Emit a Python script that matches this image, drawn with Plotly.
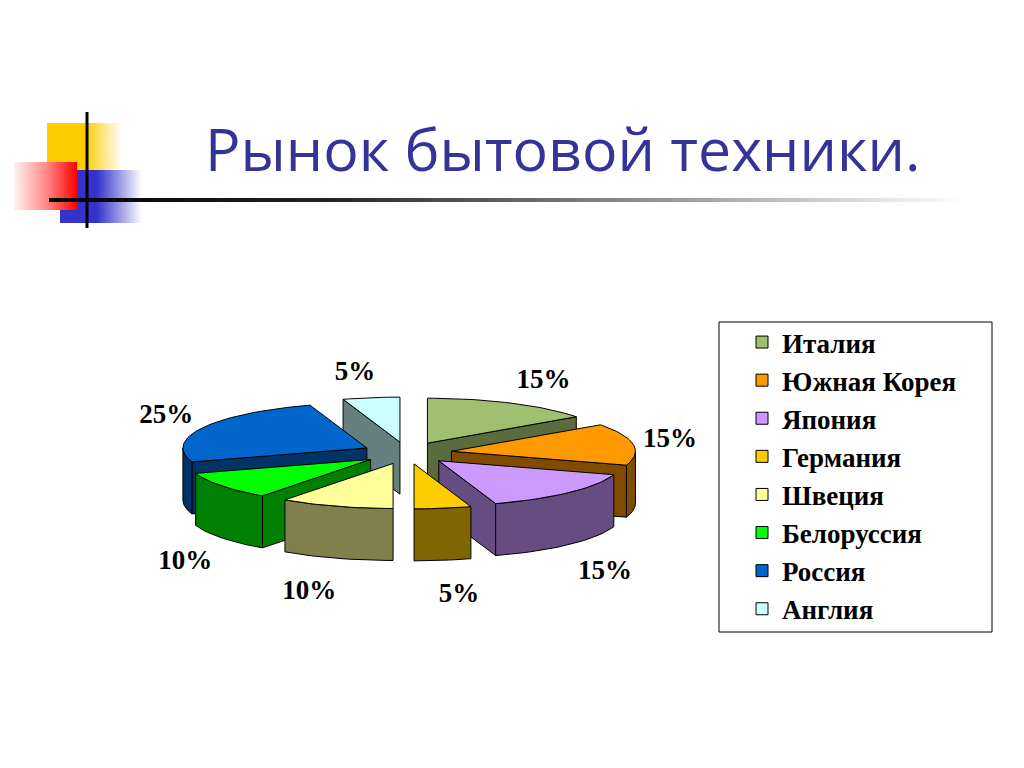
import math
import plotly.graph_objects as go

# data
countries = ["Италия", "Южная Корея", "Япония", "Германия",
             "Швеция", "Белоруссия", "Россия", "Англия"]
shares = [15, 15, 15, 5, 10, 10, 25, 5]
top_colors = ["#A0BF70", "#FF9900", "#CC99FF", "#FFCC00",
              "#FFFF99", "#00FF00", "#0066CC", "#CCFFFF"]
side_colors = ["#5A6B3E", "#804D00", "#664C80", "#806600",
               "#80804C", "#008000", "#003366", "#668080"]
title_text = "Рынок бытовой техники."

# 3d pie geometry, page pixels (y goes down)
CX, CY = 407, 453
RX, RY = 184, 45
DEPTH = 52
EXPLODE = 45

# the page body has an 8px margin, so the figure is 1016x760 and the axes
# start at 8 -> data units == page pixels
W, H, OFF = 1016, 760, 8


def pt(theta, ox, oy, down=0):
    t = math.radians(theta)
    return CX + ox + RX * math.sin(t), CY + oy - RY * math.cos(t) + down


def arc(a, b, ox, oy, down=0):
    n = max(2, int(abs(b - a) / 2) + 2)
    return [pt(a + (b - a) * i / (n - 1), ox, oy, down) for i in range(n)]


def face(points, fill, group):
    xs = [p[0] for p in points] + [points[0][0]]
    ys = [p[1] for p in points] + [points[0][1]]
    return go.Scatter(x=xs, y=ys, mode="lines", fill="toself", fillcolor=fill,
                      line=dict(color="black", width=1), legendgroup=group,
                      showlegend=False, hoverinfo="skip")


fig = go.Figure()

# slide decoration (gradient squares + rule)
def grad_rect(x0, x1, y0, y1, scale):
    return go.Scatter(x=[x0, x1, x1, x0, x0], y=[y0, y0, y1, y1, y0], mode="lines",
                      line=dict(width=0), fill="toself",
                      fillgradient=dict(type="horizontal", colorscale=scale),
                      showlegend=False, hoverinfo="skip")

fig.add_trace(grad_rect(47, 122, 123, 190, [[0, "#FFCC00"], [0.5, "#FFCC00"], [1, "#FFFFFF"]]))
fig.add_trace(grad_rect(60, 142, 170, 223, [[0, "#3333CC"], [0.45, "#3333CC"], [1, "#FFFFFF"]]))
fig.add_trace(grad_rect(14, 77, 162, 210, [[0, "#FFF2F2"], [0.5, "#FF8C8C"], [1, "#FF0000"]]))
fig.add_trace(grad_rect(49, 965, 198, 202, [[0, "#000000"], [0.3, "#222222"], [1, "#FFFFFF"]]))

# legend entries
for name, c in zip(countries, top_colors):
    fig.add_trace(go.Bar(x=[None], y=[None], name=name, legendgroup=name,
                         marker=dict(color=c, line=dict(color="black", width=1)),
                         hoverinfo="skip"))

# build slices
total = sum(shares)
slices = []
start = 0.0
for i, v in enumerate(shares):
    a0 = start
    a1 = start + 360.0 * v / total
    start = a1
    m = (a0 + a1) / 2
    mr = math.radians(m)
    ox = EXPLODE * math.sin(mr)
    oy = -EXPLODE * RY / RX * math.cos(mr)
    slices.append((i, a0, a1, m, ox, oy))

# back to front
for i, a0, a1, m, ox, oy in sorted(slices, key=lambda s: -math.cos(math.radians(s[3]))):
    g = countries[i]
    apex = (CX + ox, CY + oy)
    apex_d = (CX + ox, CY + oy + DEPTH)
    if math.sin(math.radians(a0)) < -1e-6:
        fig.add_trace(face([apex, pt(a0, ox, oy), pt(a0, ox, oy, DEPTH), apex_d], side_colors[i], g))
    if math.sin(math.radians(a1)) > 1e-6:
        fig.add_trace(face([apex, pt(a1, ox, oy), pt(a1, ox, oy, DEPTH), apex_d], side_colors[i], g))
    lo, hi = max(a0, 90), min(a1, 270)
    if hi > lo:
        fig.add_trace(face(arc(lo, hi, ox, oy) + arc(hi, lo, ox, oy, DEPTH), side_colors[i], g))
    fig.add_trace(face([apex] + arc(a0, a1, ox, oy), top_colors[i], g))

# percent labels, just outside each slice
lx, ly, lt = [], [], []
for i, a0, a1, m, ox, oy in slices:
    mr = math.radians(m)
    ex, ey = pt(m, ox, oy)
    lx.append(ex + 37 * math.tanh(3 * math.sin(mr)))
    y = CY - (RY + EXPLODE * RY / RX + 25) * math.cos(mr)
    if math.cos(mr) < 0:
        y += DEPTH + 10
    ly.append(y)
    lt.append(f"{shares[i] / total:.0%}")
fig.add_trace(go.Scatter(x=lx, y=ly, text=lt, mode="text", showlegend=False, hoverinfo="skip",
                         textfont=dict(family="Liberation Serif", size=27, color="black", weight="bold")))

fig.add_shape(type="line", x0=87, x1=87, y0=112, y1=228, line=dict(color="black", width=3))
fig.add_shape(type="rect", x0=719, x1=992, y0=322, y1=632, line=dict(color="black", width=1),
              layer="below")

fig.add_annotation(x=562, y=148, text=title_text, showarrow=False, xanchor="center", yanchor="middle",
                   font=dict(family="Open Sans", size=59, color="#333399"))

fig.update_layout(
    width=W, height=H,
    margin=dict(l=0, r=0, t=0, b=0),
    paper_bgcolor="white", plot_bgcolor="white",
    xaxis=dict(range=[OFF, OFF + W], visible=False, fixedrange=True),
    yaxis=dict(range=[OFF + H, OFF], visible=False, fixedrange=True),
    legend=dict(x=(742 - OFF) / W, y=1 - (318 - OFF) / H, xanchor="left", yanchor="top",
                bgcolor="rgba(0,0,0,0)", tracegroupgap=0,
                font=dict(family="Liberation Serif", size=27, color="black", weight="bold")),
)

fig.write_html("out.html")
